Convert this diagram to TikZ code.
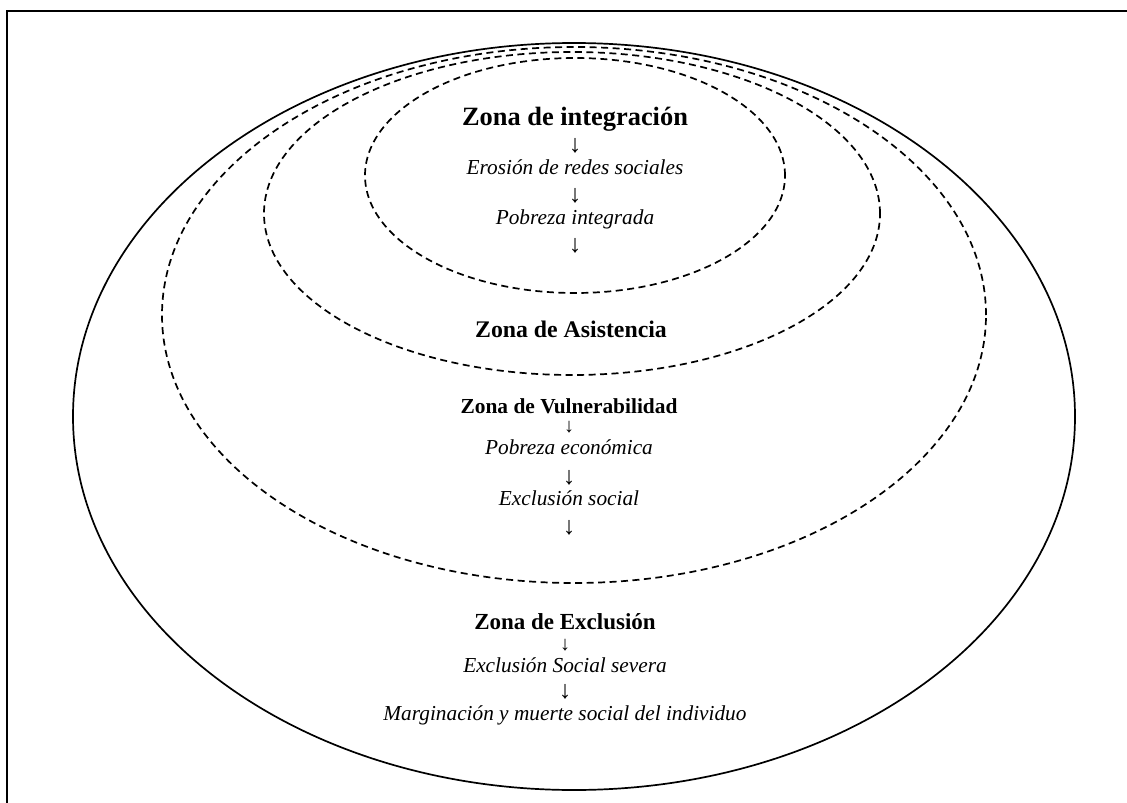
\documentclass[tikz,border=0pt]{standalone}
\usepackage{fontspec}
\setmainfont{Liberation Serif}
\usetikzlibrary{math}

\tikzset{
  zona/.style={font=\bfseries\fontsize{#1}{#1}\selectfont, inner sep=0pt},
  paso/.style={font=\itshape\fontsize{21.3}{24}\selectfont, inner sep=0pt,
    text height=15.3pt, text depth=4.7pt},
  flecha/.style={font=\fontsize{25}{25}\selectfont, inner sep=0pt,
    text height=14.8pt, text depth=1.4pt},
  flechita/.style={font=\fontsize{20}{20}\selectfont, inner sep=0pt,
    text height=12pt, text depth=1pt},
  borde/.style={line width=1.7pt},
}

\begin{document}
\begin{tikzpicture}[x=1pt,y=-1pt]
  \tikzmath{
    \xa=575; \xb=569; \xc=565;
  }
  \useasboundingbox (0,0) rectangle (1127,803);
  \draw[line width=2.4pt] (7,803) -- (7,11) -- (1127,11);

  \draw[borde] (574,416.5) ellipse [x radius=501pt, y radius=373.5pt];
  \foreach \cx/\cy/\rx/\ry in {574/315/412/268, 572/213.5/308/161.5, 575/175.5/210/117.5}{
    \draw[borde, dash pattern=on 7pt off 4.5pt] (\cx,\cy) ellipse [x radius=\rx pt, y radius=\ry pt];
  }

  \node[zona=26.4] (integ) at (\xa,119) {Zona de integración};
  \node[flecha] (f1) at (\xa,146) {↓};
  \node[paso] (erosion) at (\xa,169) {Erosión de redes sociales};
  \node[flecha] (f2) at (\xa,196) {↓};
  \node[paso] (pobint) at (\xa,219) {Pobreza integrada};
  \node[flecha] (f3) at (\xa,246) {↓};

  \node[zona=23.8] (asist) at (571,329) {Zona de Asistencia};

  \node[zona=21.4] (vuln) at (\xb,406) {Zona de Vulnerabilidad};
  \node[flechita] (f4) at (\xb,427) {↓};
  \node[paso] (pobeco) at (\xb,449) {Pobreza económica};
  \node[flecha] (f5) at (\xb,478) {↓};
  \node[paso] (exsoc) at (\xb,500) {Exclusión social};
  \node[flecha] (f6) at (\xb,528) {↓};

  \node[zona=23] (exclu) at (\xc,622) {Zona de Exclusión};
  \node[flechita] (f7) at (\xc,645) {↓};
  \node[paso] (severa) at (\xc,667) {Exclusión Social severa};
  \node[flecha] (f8) at (\xc,692) {↓};
  \node[paso] (margin) at (\xc,715) {Marginación y muerte social del individuo};
\end{tikzpicture}
\end{document}
